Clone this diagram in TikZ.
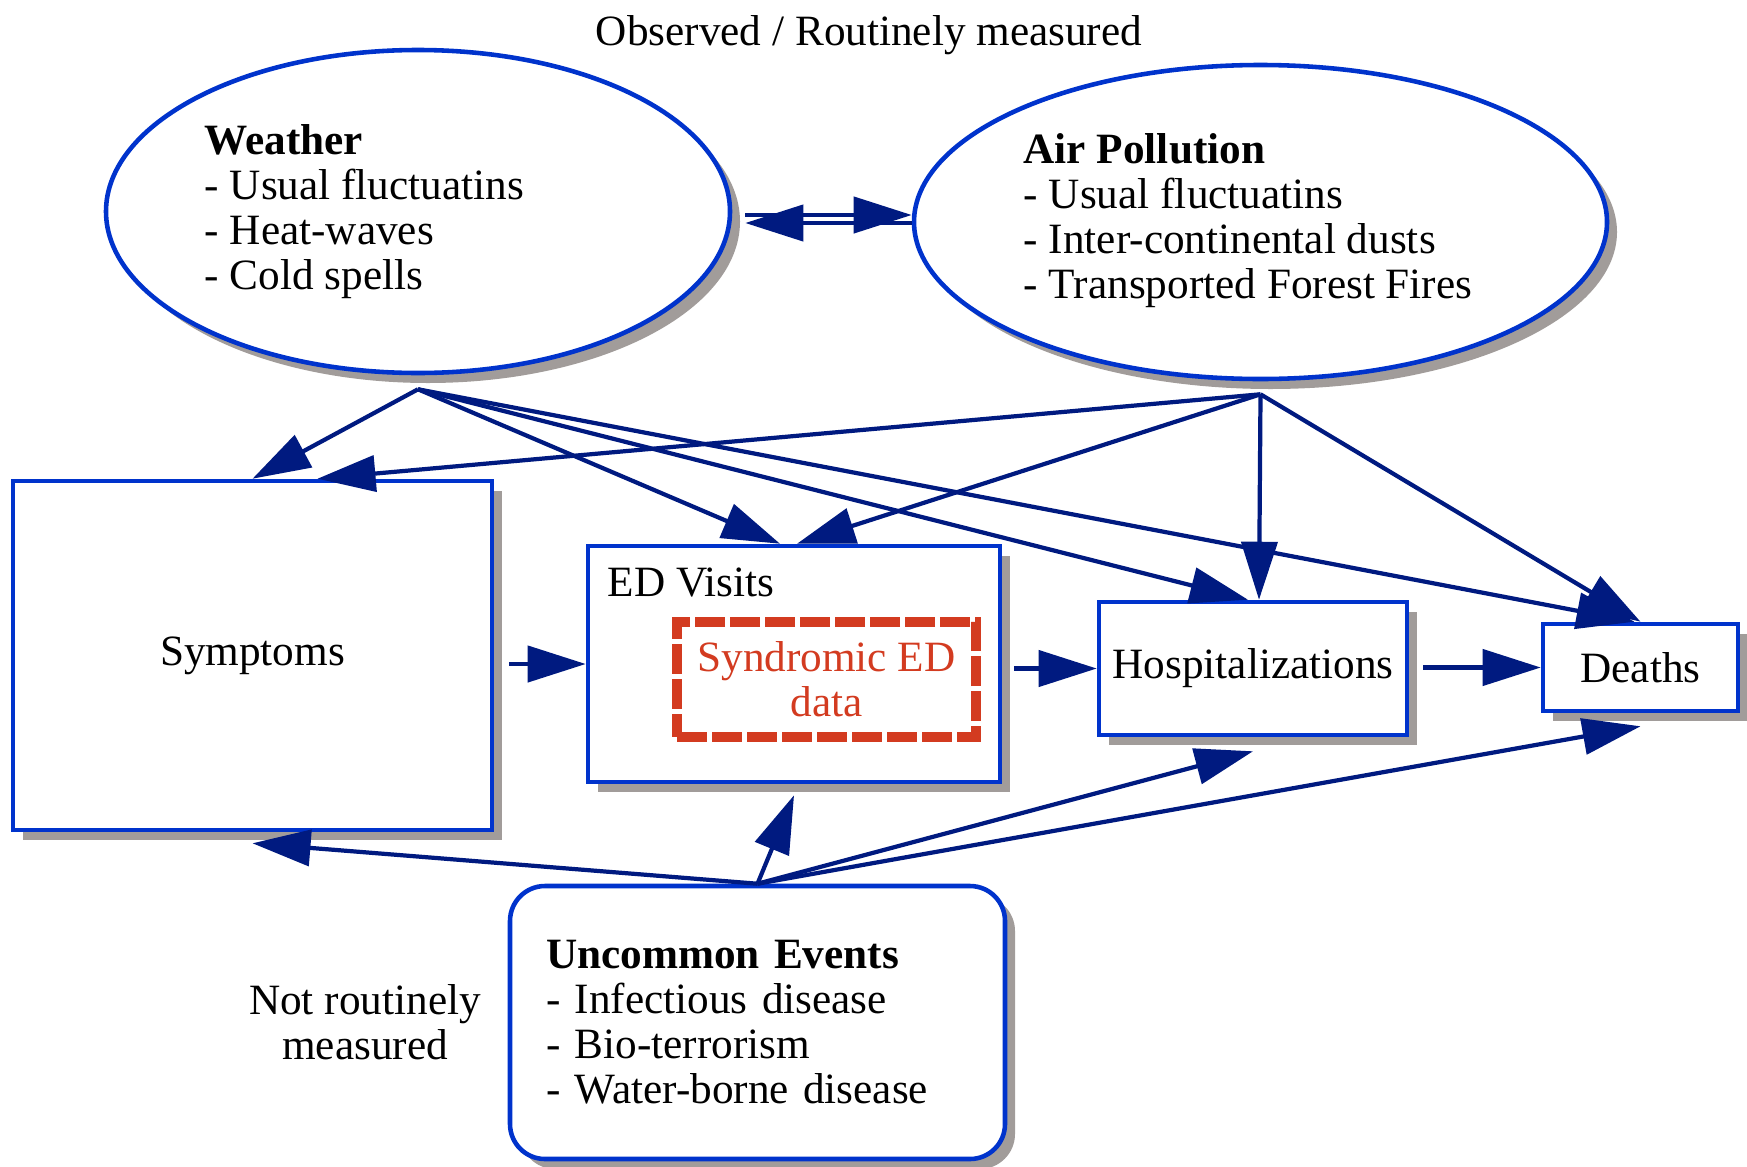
\documentclass[tikz,border=0pt]{standalone}
\usepackage{fontspec}
\setmainfont{Liberation Serif}
\usetikzlibrary{shapes.geometric,arrows.meta,positioning,calc,shadows}
\definecolor{azul}{HTML}{0033CC}
\definecolor{azuloscuro}{HTML}{001A80}
\definecolor{rojo}{HTML}{D33B20}
\definecolor{gris}{HTML}{A19C9A}
\tikzset{
  sombra/.style={drop shadow={shadow xshift=1mm,shadow yshift=-1mm,fill=gris,opacity=1}},
  caja/.style={draw=azul,fill=white,line width=1.3pt,sombra,inner sep=0pt},
  elipse/.style={caja,ellipse},
  cajaroja/.style={draw=rojo,line width=2.6pt,dash pattern=on 3mm off 0.5mm,inner sep=0pt,text=rojo,align=center},
  texto/.style={align=left,inner sep=0pt,anchor=north west},
  flecha/.style={-{Triangle[length=5.8mm,width=3.6mm]},line width=1.2pt,azuloscuro},
}
\begin{document}
\begin{tikzpicture}[font=\fontsize{12.3}{12.8}\selectfont]
  \useasboundingbox (0,0) rectangle (17.47,-11.66);
  % Observed
  \node (obs) at (8.69,-0.35) {Observed / Routinely measured};
  \node[elipse,minimum width=62.4mm,minimum height=32.3mm] (weather) at (4.18,-2.115) {};
  \node[texto] (weathertxt) at (2.04,-1.24) {\textbf{Weather}\\- Usual fluctuatins\\- Heat-waves\\- Cold spells};
  \node[elipse,minimum width=69.3mm,minimum height=31.4mm] (airpol) at (12.605,-2.22) {};
  \node[texto] (airpoltxt) at (10.23,-1.33) {\textbf{Air Pollution}\\- Usual fluctuatins\\- Inter-continental dusts\\- Transported Forest Fires};
  % Middle row
  \node[caja,minimum width=47.9mm,minimum height=34.9mm] (symptoms) at (2.525,-6.555) {Symptoms};
  \node[caja,minimum width=41.2mm,minimum height=23.6mm] (edvis) at (7.94,-6.64) {};
  \node[texto] (edtxt) at (6.07,-5.67) {ED Visits};
  \node[cajaroja,minimum width=29.9mm,minimum height=11.5mm] (syndr) at (8.265,-6.795) {Syndromic ED\\data};
  \node[caja,minimum width=30.8mm,minimum height=13.3mm] (hosp) at (12.53,-6.685) {Hospitalizations};
  \node[caja,minimum width=19.5mm,minimum height=8.7mm] (deaths) at (16.405,-6.675) {Deaths};
  % Not observed
  \node[caja,rounded corners=3.5mm,minimum width=49.5mm,minimum height=27.3mm,text width=42.3mm,align=left] (uncev) at (7.575,-10.225) {\textbf{Uncommon Events}\\- Infectious disease\\- Bio-terrorism\\- Water-borne disease};
  \node[align=center] (notrout) at (3.65,-10.22) {Not routinely\\measured};
  % Arrows
  \coordinate (wsal) at ($(weather.south)+(0,-0.14)$);
  \coordinate (asal) at ($(airpol.south)+(0,-0.13)$);
  \draw[flecha] ($(weather.east |- airpol.west)+(1.3mm,0.7mm)$) -- ($(airpol.west)+(0,0.7mm)$);
  \draw[flecha] ($(airpol.west)+(0,-0.1mm)$) -- ($(weather.east |- airpol.west)+(1.3mm,-0.1mm)$);
  \draw[flecha] (wsal) -- (symptoms.north);
  \draw[flecha] (wsal) -- ($(edvis.north)+(-0.14,0)$);
  \draw[flecha] (wsal) -- ($(hosp.north)+(-0.05,0)$);
  \draw[flecha] (wsal) -- ($(deaths.north)+(-0.06,0)$);
  \draw[flecha] (asal) -- ($(symptoms.north)+(0.65,0)$);
  \draw[flecha] (asal) -- ($(edvis.north)+(0.03,0)$);
  \draw[flecha] (asal) -- ($(hosp.north)+(0.06,0)$);
  \draw[flecha] (asal) -- (deaths.north);
  \draw[flecha] ($(symptoms.east |- edvis.west)+(1.5mm,0)$) -- (edvis.west);
  \draw[flecha] ($(edvis.east |- hosp.west)+(1.2mm,0)$) -- (hosp.west);
  \draw[flecha] ($(hosp.east |- deaths.west)+(1.4mm,0)$) -- (deaths.west);
  \draw[flecha] (uncev.north) -- ($(symptoms.south)+(0,-0.11)$);
  \draw[flecha] (uncev.north) -- ($(edvis.south)+(0,-0.11)$);
  \draw[flecha] (uncev.north) -- ($(hosp.south)+(0,-0.14)$);
  \draw[flecha] (uncev.north) -- ($(deaths.south)+(0,-0.13)$);
\end{tikzpicture}
\end{document}
